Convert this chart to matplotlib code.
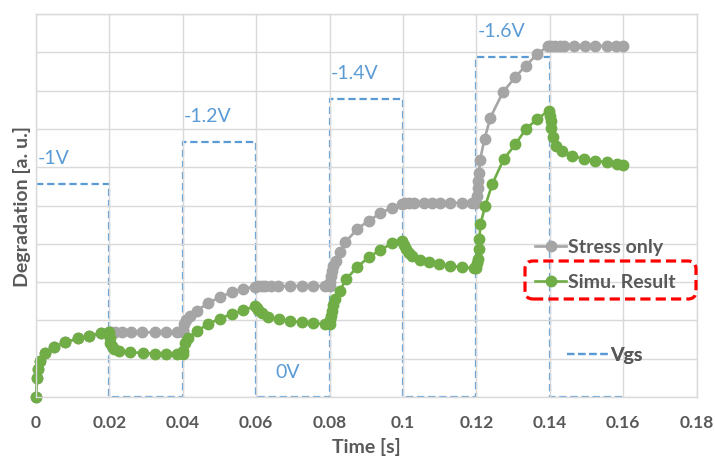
import matplotlib
matplotlib.use("Agg")
import matplotlib.pyplot as plt
import matplotlib.patches as mpatches
from matplotlib.transforms import IdentityTransform
from matplotlib.lines import Line2D

plt.rcParams['font.family'] = ['Lato', 'DejaVu Sans']

# --- data ---
# stress only (grey)
t_stress = [0, 0.0003, 0.0006, 0.001, 0.0025, 0.005, 0.008, 0.0115, 0.0145, 0.0177, 0.02,
            0.0205, 0.0215, 0.0235, 0.026, 0.029, 0.0325, 0.0355, 0.0385, 0.04,
            0.0401, 0.0404, 0.041, 0.042, 0.0438, 0.047, 0.0502, 0.0534, 0.0565, 0.0597,
            0.0605, 0.0615, 0.0625, 0.064, 0.066, 0.0693, 0.0725, 0.0755, 0.0788, 0.08,
            0.0801, 0.0803, 0.0806, 0.081, 0.0818, 0.0829, 0.0843, 0.0875, 0.0906, 0.0938, 0.097, 0.0997,
            0.1006, 0.1015, 0.1029, 0.1056, 0.1079, 0.1102, 0.1129, 0.1161, 0.1188, 0.12,
            0.1201, 0.1203, 0.1205, 0.1207, 0.121, 0.1222, 0.1238, 0.1272, 0.1305, 0.1334, 0.1365, 0.1395,
            0.1403, 0.1415, 0.1428, 0.1438, 0.1465, 0.1497, 0.1524, 0.1556, 0.1579, 0.16]
d_stress = [0, 0.5, 0.73, 0.95, 1.14, 1.31, 1.43, 1.53, 1.60, 1.67, 1.69,
            1.69, 1.69, 1.69, 1.69, 1.69, 1.69, 1.69, 1.69, 1.69,
            1.76, 1.9, 2.02, 2.12, 2.25, 2.46, 2.61, 2.74, 2.83, 2.88,
            2.9, 2.9, 2.9, 2.9, 2.9, 2.9, 2.9, 2.9, 2.9, 2.9,
            3.0, 3.15, 3.3, 3.42, 3.56, 3.78, 4.04, 4.39, 4.6, 4.8, 4.95, 5.05,
            5.07, 5.07, 5.07, 5.07, 5.07, 5.07, 5.07, 5.07, 5.07, 5.07,
            5.25, 5.45, 5.65, 5.85, 6.2, 6.74, 7.3, 7.96, 8.35, 8.65, 8.95, 9.17,
            9.17, 9.17, 9.17, 9.17, 9.17, 9.17, 9.17, 9.17, 9.17, 9.17]

# simulation result (green)
t_simu = [0, 0.0003, 0.0006, 0.001, 0.0025, 0.005, 0.008, 0.0115, 0.0145, 0.0177, 0.02,
          0.0201, 0.0203, 0.0206, 0.0212, 0.0225, 0.0255, 0.0292, 0.0325, 0.0355, 0.0385, 0.04,
          0.0401, 0.0405, 0.0415, 0.0438, 0.047, 0.0502, 0.0534, 0.0565, 0.0597,
          0.0602, 0.0606, 0.0615, 0.0633, 0.0661, 0.0693, 0.0725, 0.0756, 0.0788, 0.08,
          0.0801, 0.0803, 0.0806, 0.081, 0.0816, 0.0828, 0.0845, 0.0875, 0.0906, 0.0938, 0.097, 0.0997,
          0.1002, 0.1007, 0.1015, 0.1025, 0.1047, 0.107, 0.1097, 0.1129, 0.1161, 0.1192, 0.12,
          0.1202, 0.1205, 0.1207, 0.1208, 0.1211, 0.1224, 0.1243, 0.1274, 0.1306, 0.1334, 0.1365, 0.1397,
          0.1401, 0.1402, 0.1404, 0.1408, 0.1418, 0.1433, 0.146, 0.1493, 0.1524, 0.1556, 0.1584, 0.16]
d_simu = [0, 0.5, 0.73, 0.95, 1.14, 1.31, 1.43, 1.53, 1.60, 1.67, 1.69,
          1.55, 1.42, 1.32, 1.25, 1.2, 1.17, 1.15, 1.13, 1.12, 1.12, 1.11,
          1.2, 1.42, 1.54, 1.72, 1.91, 2.05, 2.17, 2.27, 2.37,
          2.32, 2.26, 2.19, 2.1, 2.03, 1.98, 1.95, 1.93, 1.91, 1.9,
          2.0, 2.12, 2.25, 2.4, 2.55, 2.78, 3.08, 3.39, 3.65, 3.84, 4.01, 4.08,
          3.98, 3.86, 3.76, 3.69, 3.58, 3.52, 3.47, 3.43, 3.39, 3.36, 3.36,
          3.5, 3.6, 3.86, 4.13, 4.52, 5.0, 5.56, 6.21, 6.6, 6.99, 7.26, 7.48,
          7.35, 7.2, 7.02, 6.8, 6.56, 6.42, 6.3, 6.22, 6.17, 6.13, 6.08, 6.07]

# gate voltage pulses
vgs_edges = [0, 0.02, 0.04, 0.06, 0.08, 0.10, 0.12, 0.14, 0.16]
vgs_levels = [-1.0, 0, -1.2, 0, -1.4, 0, -1.6, 0]

x_ticks = [0, 0.02, 0.04, 0.06, 0.08, 0.1, 0.12, 0.14, 0.16, 0.18]
x_labels = ['0', '0.02', '0.04', '0.06', '0.08', '0.1', '0.12', '0.14', '0.16', '0.18']

GREY = '#A5A5A5'
GREEN = '#70AD47'
BLUE = '#5B9BD5'
TXT = '#595959'
GRID = '#D9D9D9'

fig = plt.figure(figsize=(7.15, 4.6), dpi=100)
ax = fig.add_axes([0.0503, 0.1348, 0.9241, 0.8322])
axv = ax.twinx()
axv.set_zorder(ax.get_zorder() - 1)
ax.patch.set_visible(False)

# Vgs on hidden secondary axis
vgs_line = axv.stairs(vgs_levels, vgs_edges, baseline=None, color=BLUE, lw=1.6,
                      ls=(0, (3.3, 1.7)))
axv.set_ylim(0, -1.8)
axv.set_yticks([])
for s in axv.spines.values():
    s.set_visible(False)

for left, v in zip(vgs_edges[:-1], vgs_levels):
    if v != 0:
        axv.annotate(f'{v:g}V', (left, v), xytext=(1, 19), textcoords='offset points',
                     ha='left', va='center', color=BLUE, fontsize=14)
axv.annotate('0V', ((vgs_edges[3] + vgs_edges[4]) / 2, 0), xytext=(-4, 18),
             textcoords='offset points', ha='center', va='center', color=BLUE, fontsize=14)

l_stress, = ax.plot(t_stress, d_stress, color=GREY, lw=1.9, marker='o', ms=7.5,
                    label='Stress only', clip_on=False)
l_simu, = ax.plot(t_simu, d_simu, color=GREEN, lw=1.9, marker='o', ms=7.5,
                  label='Simu. Result', clip_on=False)

ax.set_xlim(0, 0.18)
ax.set_ylim(0, 10)
ax.set_xticks(x_ticks)
ax.set_xticklabels(x_labels)
ax.set_yticks(range(0, 11))
ax.set_yticklabels([])
ax.tick_params(length=0, pad=12, labelsize=12.5, labelcolor=TXT)
for lab in ax.get_xticklabels():
    lab.set_fontweight('bold')
ax.grid(True, color=GRID, lw=1.0)
for s in ax.spines.values():
    s.set_color(GRID)
    s.set_linewidth(1.0)

ax.set_xlabel('Time [s]', fontsize=14, fontweight='bold', color=TXT, labelpad=5)
ax.set_ylabel('Degradation [a. u.]', fontsize=14, fontweight='bold', color=TXT)
ax.yaxis.set_label_coords(-0.008, 0.5)

# legend entries placed one by one (pixel positions of the reference)
vgs_handle = Line2D([], [], color=BLUE, lw=1.6, ls=(0, (3.3, 1.7)))
entries = [(l_stress, 'Stress only', 535, 248, 1.6),
           (l_simu, 'Simu. Result', 535, 283, 1.6),
           (vgs_handle, 'Vgs', 567, 356, 2.1)]
for handle, text, px, py, hl in entries:
    leg = ax.legend([handle], [text], loc='center left',
                    bbox_to_anchor=(px / 715, 1 - py / 460), bbox_transform=fig.transFigure,
                    frameon=False, fontsize=14, handlelength=hl, handletextpad=0.1,
                    borderpad=0, borderaxespad=0)
    for t in leg.get_texts():
        t.set_color(TXT)
        t.set_fontweight('bold')
    ax.add_artist(leg)

# red dashed highlight around the simulation legend entry
box = mpatches.FancyBboxPatch((525, 460 - 300), 171, 38,
                              boxstyle='round,pad=0,rounding_size=8',
                              transform=IdentityTransform(), fill=False,
                              ec='#FF0000', lw=2.3, ls=(0, (3.2, 1.6)))
fig.patches.append(box)

fig.savefig('out.png', dpi=100, facecolor='white')
